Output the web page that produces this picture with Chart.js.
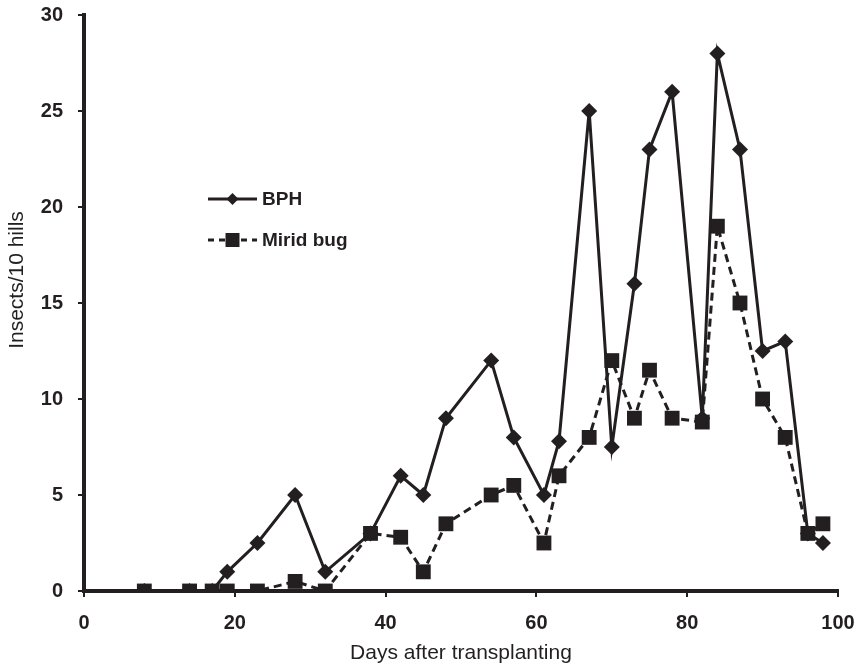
<!DOCTYPE html>
<html>
<head>
<meta charset="utf-8">
<script src="https://cdn.jsdelivr.net/npm/chart.js@4"></script>
<style>
  html, body { margin: 0; padding: 0; background: #fff; }
  #wrap { width: 855px; height: 666px; }
</style>
</head>
<body>
<div id="wrap"><canvas id="myChart"></canvas></div>
<script>
// days after transplanting (sampling dates)
const days = [8, 14, 17, 19, 23, 28, 32, 38, 42, 45, 48, 54, 57, 61, 63, 67, 70, 73, 75, 78, 82, 84, 87, 90, 93, 96, 98];
const bph = [0, 0, 0, 1, 2.5, 5, 1, 3, 6, 5, 9, 12, 8, 5, 7.8, 25, 7.5, 16, 23, 26, 9, 28, 23, 12.5, 13, 3, 2.5];
const mirid = [0, 0, 0, 0, 0, 0.5, 0, 3, 2.8, 1, 3.5, 5, 5.5, 2.5, 6, 8, 12, 9, 11.5, 9, 8.8, 19, 15, 10, 8, 3, 3.5];
const seriesNames = ['BPH', 'Mirid bug'];
const yTitle = 'Insects/10 hills';
const xTitle = 'Days after transplanting';

const ink = '#231f20';
const fontFam = '"Liberation Sans", Arial, sans-serif';

function points(vals) {
    return days.map((d, i) => ({x: d, y: vals[i]}));
}

// legend inside the plot (line sample with marker in the middle) + y title
const extras = {
    id: 'extras',
    afterDatasetsDraw(chart) {
        const ctx = chart.ctx;
        const a = chart.chartArea;
        const x0 = a.left + 124, x1 = a.left + 173;
        const rows = [
            {y: a.top + 184, dash: [], marker: 'diamond'},
            {y: a.top + 225, dash: [6, 5], marker: 'square'}
        ];
        ctx.save();
        rows.forEach((r, i) => {
            ctx.strokeStyle = ink;
            ctx.fillStyle = ink;
            ctx.lineWidth = 3;
            ctx.setLineDash(r.dash);
            ctx.beginPath();
            ctx.moveTo(x0, r.y);
            ctx.lineTo(x1, r.y);
            ctx.stroke();
            ctx.setLineDash([]);
            const mx = (x0 + x1) / 2;
            ctx.beginPath();
            if (r.marker === 'diamond') {
                ctx.moveTo(mx - 6, r.y);
                ctx.lineTo(mx, r.y - 6);
                ctx.lineTo(mx + 6, r.y);
                ctx.lineTo(mx, r.y + 6);
                ctx.closePath();
            } else {
                ctx.rect(mx - 7, r.y - 7, 14, 14);
            }
            ctx.fill();
            ctx.font = 'bold 19px ' + fontFam;
            ctx.textBaseline = 'middle';
            ctx.fillText(seriesNames[i], x1 + 5, r.y + 1);
        });

        // y title, sits a bit above the middle of the axis in the original
        ctx.translate(17, (a.top + a.bottom) / 2 - 23);
        ctx.rotate(-Math.PI / 2);
        ctx.font = '21px ' + fontFam;
        ctx.textAlign = 'center';
        ctx.textBaseline = 'middle';
        ctx.fillText(yTitle, 0, 0);
        ctx.restore();
    }
};

const ctx = document.getElementById('myChart').getContext('2d');
const myChart = new Chart(ctx, {
    type: 'line',
    data: {
        datasets: [
            {
                label: seriesNames[0],
                data: points(bph),
                borderColor: ink,
                backgroundColor: ink,
                borderWidth: 3,
                pointStyle: 'rectRot',
                pointRadius: 8,
                pointBorderWidth: 0,
                fill: false,
                tension: 0
            },
            {
                label: seriesNames[1],
                data: points(mirid),
                borderColor: ink,
                backgroundColor: ink,
                borderWidth: 3,
                borderDash: [8, 5],
                pointStyle: 'rect',
                pointRadius: 10.5,
                pointBorderWidth: 0,
                fill: false,
                tension: 0
            }
        ]
    },
    options: {
        responsive: true,
        maintainAspectRatio: false,
        animation: false,
        layout: {padding: {top: 0, right: 1, left: 0, bottom: 0}},
        plugins: {
            legend: {display: false},
            tooltip: {enabled: false}
        },
        scales: {
            x: {
                type: 'linear',
                min: 0,
                max: 100,
                afterFit: (s) => { s.height = 75; s.paddingRight = 17; s.paddingLeft = 0; },
                ticks: {stepSize: 20, color: ink, padding: 14, font: {family: fontFam, size: 20, weight: 'bold'}},
                grid: {drawOnChartArea: false, color: ink, tickLength: 6, lineWidth: 2},
                border: {display: true, color: ink, width: 4},
                title: {display: true, text: xTitle, color: ink,
                    font: {family: fontFam, size: 21}, padding: {top: 0, bottom: 0}}
            },
            y: {
                min: 0,
                max: 30,
                afterFit: (s) => { s.width = 84; s.paddingTop = 15; s.paddingBottom = 0; },
                ticks: {stepSize: 5, color: ink, padding: 15, font: {family: fontFam, size: 20, weight: 'bold'}},
                grid: {drawOnChartArea: false, color: ink, tickLength: 6, lineWidth: 2},
                border: {display: true, color: ink, width: 4}
            }
        }
    },
    plugins: [extras]
});
</script>
</body>
</html>
